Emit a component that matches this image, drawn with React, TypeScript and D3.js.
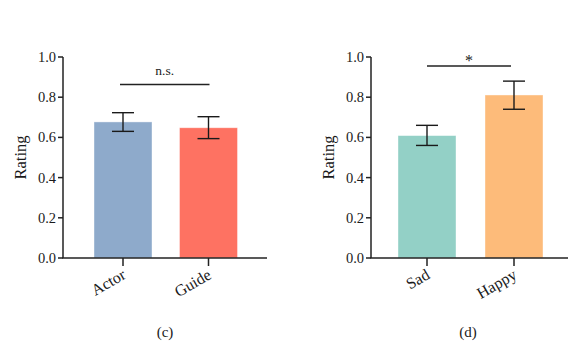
import React from "react";
import * as d3 from "d3";

const catsC = ["Actor", "Guide"];
const meansC = [0.677, 0.648];
const lowC = [0.63, 0.594];
const highC = [0.723, 0.703];
const colorsC = ["#8eaacb", "#fe7262"];

const catsD = ["Sad", "Happy"];
const meansD = [0.609, 0.811];
const lowD = [0.56, 0.74];
const highD = [0.66, 0.88];
const colorsD = ["#93d0c6", "#fdbb7a"];

const yTicks = [0, 0.2, 0.4, 0.6, 0.8, 1.0];
const FONT = "Liberation Serif";

type PanelProps = {
  x0: number;
  x1: number;
  r0: number;
  r1: number;
  cats: string[];
  means: number[];
  low: number[];
  high: number[];
  colors: string[];
  sigLabel: string;
  sigY: number;
  sigFrom: number;
  sigTo: number;
  label: string;
  labelX: number;
};

function Panel(p: PanelProps) {
  const y = d3.scaleLinear().domain([0, 1]).range([258, 57]);
  const range = p.r1 - p.r0;
  const step = range - 58;
  const band = d3
    .scaleBand()
    .domain(p.cats)
    .range([p.r0, p.r1])
    .paddingInner(2 - range / step)
    .paddingOuter(0);
  const bw = band.bandwidth();
  const cx = (c: string) => (band(c) as number) + bw / 2;
  const sx0 = cx(p.cats[0]) - 3 + p.sigFrom;
  const sx1 = cx(p.cats[1]) + p.sigTo;
  return (
    <g>
      {p.cats.map((c, i) => (
        <rect
          key={c}
          x={band(c)}
          y={y(p.means[i])}
          width={bw}
          height={y(0) - y(p.means[i])}
          fill={p.colors[i]}
          stroke="#ffffff"
          strokeOpacity={0.5}
          strokeWidth={0.8}
        />
      ))}
      {p.cats.map((c, i) => (
        <g key={c + "e"} stroke="#1a1a1a" strokeWidth={1.4}>
          <line x1={cx(c)} x2={cx(c)} y1={y(p.high[i])} y2={y(p.low[i])} />
          <line x1={cx(c) - 11} x2={cx(c) + 11} y1={y(p.high[i])} y2={y(p.high[i])} />
          <line x1={cx(c) - 11} x2={cx(c) + 11} y1={y(p.low[i])} y2={y(p.low[i])} />
        </g>
      ))}
      <line x1={p.x0} x2={p.x0} y1={y(1)} y2={y(0)} stroke="#222" strokeWidth={1.5} />
      {yTicks.map((t) => (
        <g key={t}>
          <line x1={p.x0 - 5} x2={p.x0} y1={y(t)} y2={y(t)} stroke="#222" strokeWidth={1.5} />
          <text x={p.x0 - 7} y={y(t)} dy="0.35em" textAnchor="end" fontFamily={FONT} fontSize={14.5} fill="#1a1a1a">
            {d3.format(".1f")(t)}
          </text>
        </g>
      ))}
      <text
        transform={`translate(${p.x0 - 43},${y(0.5)}) rotate(-90)`}
        textAnchor="middle"
        dy="0.35em"
        fontFamily={FONT}
        fontSize={16.5}
        fill="#1a1a1a"
      >
        Rating
      </text>
      <line x1={p.x0 - 0.75} x2={p.x1} y1={y(0)} y2={y(0)} stroke="#222" strokeWidth={1.5} />
      {p.cats.map((c) => (
        <g key={c + "t"}>
          <line x1={cx(c)} x2={cx(c)} y1={y(0)} y2={y(0) + 8} stroke="#222" strokeWidth={1.5} />
          <text
            transform={`translate(${cx(c) + 1},${y(0) + 15}) rotate(-30)`}
            textAnchor="end"
            dy="0.35em"
            fontFamily={FONT}
            fontSize={16}
            fill="#1a1a1a"
          >
            {c}
          </text>
        </g>
      ))}
      <line x1={sx0} x2={sx1} y1={p.sigY} y2={p.sigY} stroke="#222" strokeWidth={1.5} />
      <text
        x={(sx0 + sx1) / 2}
        y={p.sigY - 10}
        textAnchor="middle"
        dy={p.sigLabel === "*" ? "0.6em" : "0em"}
        fontFamily={FONT}
        fontSize={p.sigLabel === "*" ? 16 : 13.5}
        fill="#1a1a1a"
      >
        {p.sigLabel}
      </text>
      <text x={p.labelX} y={337} textAnchor="middle" fontFamily={FONT} fontSize={15} fill="#1a1a1a">
        {p.label}
      </text>
    </g>
  );
}

export default function App() {
  return (
    <svg
      width={568}
      height={342}
      style={{ position: "absolute", left: 0, top: 0, background: "#fff" }}
    >
      <Panel
        x0={63}
        x1={267}
        r0={94}
        r1={237.5}
        cats={catsC}
        means={meansC}
        low={lowC}
        high={highC}
        colors={colorsC}
        sigLabel="n.s."
        sigY={84.5}
        sigFrom={0}
        sigTo={1}
        label="(c)"
        labelX={165}
      />
      <Panel
        x0={371}
        x1={568}
        r0={398}
        r1={543}
        cats={catsD}
        means={meansD}
        low={lowD}
        high={highD}
        colors={colorsD}
        sigLabel="*"
        sigY={66}
        sigFrom={3}
        sigTo={-3}
        label="(d)"
        labelX={468}
      />
    </svg>
  );
}
